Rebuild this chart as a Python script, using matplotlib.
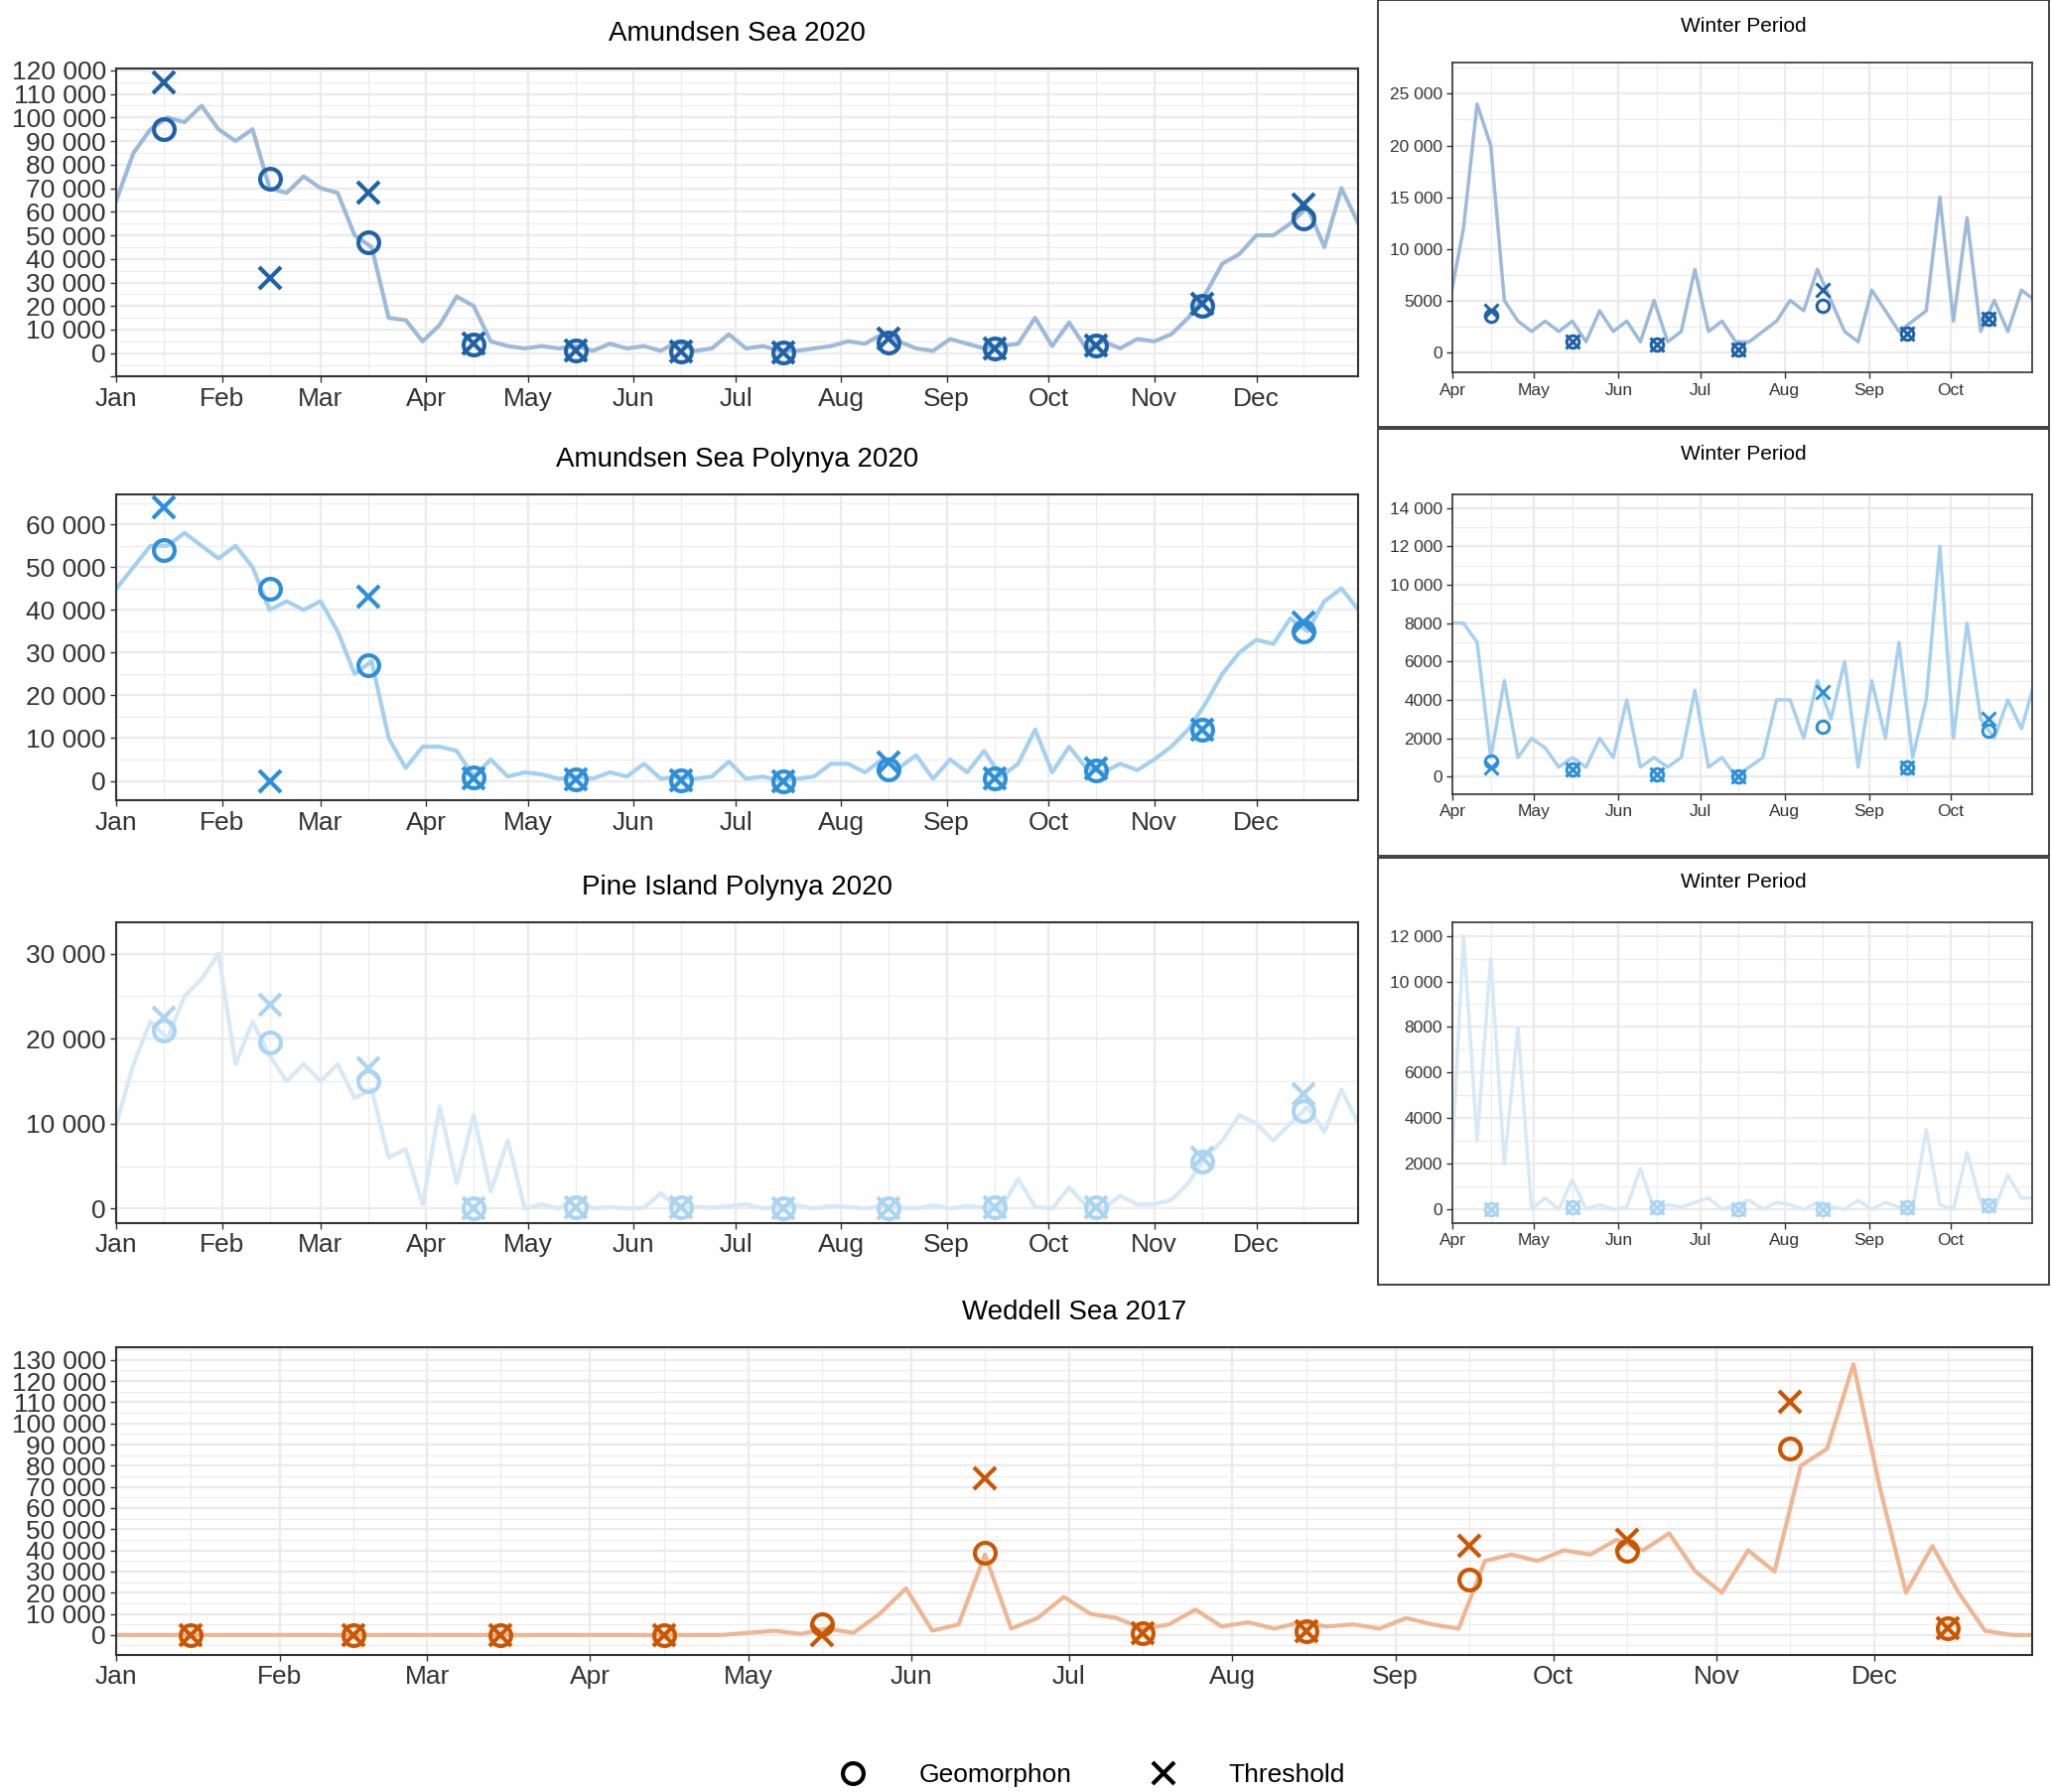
import matplotlib.pyplot as plt
import matplotlib.dates as mdates
from matplotlib.patches import Rectangle
from matplotlib.lines import Line2D
import numpy as np
import pandas as pd

plt.rcParams['font.family'] = ['Liberation Sans', 'DejaVu Sans']

amundsen = [65000, 85000, 95000, 100000, 98000, 105000, 95000,
            90000, 95000, 70000, 68000, 75000, 70000,
            68000, 50000, 45000, 15000, 14000, 5000,
            12000, 24000, 20000, 5000, 3000, 2000,
            3000, 2000, 3000, 1000, 4000, 2000,
            3000, 1000, 5000, 1000, 2000, 8000,
            2000, 3000, 1000, 1000, 2000, 3000,
            5000, 4000, 8000, 5000, 2000, 1000,
            6000, 4000, 2000, 3000, 4000, 15000,
            3000, 13000, 2000, 5000, 2000, 6000,
            5000, 8000, 15000, 25000, 38000, 42000,
            50000, 50000, 55000, 62000, 45000, 70000, 55000]
polynya = [45000, 50000, 55000, 55000, 58000, 55000, 52000,
           55000, 50000, 40000, 42000, 40000, 42000,
           35000, 25000, 28000, 10000, 3000, 8000,
           8000, 7000, 1000, 5000, 1000, 2000,
           1500, 500, 1000, 500, 2000, 1000,
           4000, 500, 1000, 500, 1000, 4500,
           500, 1000, 0, 500, 1000, 4000,
           4000, 2000, 5000, 3000, 6000, 500,
           5000, 2000, 7000, 1000, 4000, 12000,
           2000, 8000, 3000, 2000, 4000, 2500,
           5000, 8000, 12000, 18000, 25000, 30000,
           33000, 32000, 38000, 35000, 42000, 45000, 40000]
pine_island = [10000, 17000, 22000, 20000, 25000, 27000, 30000,
               17000, 22000, 18000, 15000, 17000, 15000,
               17000, 13000, 14000, 6000, 7000, 500,
               12000, 3000, 11000, 2000, 8000, 0,
               500, 0, 1300, 0, 200, 0,
               100, 1800, 0, 200, 100, 300,
               500, 0, 200, 400, 0, 300,
               200, 0, 300, 100, 0, 400,
               0, 300, 100, 0, 3500, 200,
               0, 2500, 300, 0, 1500, 500,
               500, 1000, 3000, 6000, 8000, 11000,
               10000, 8000, 10000, 12000, 9000, 14000, 10000]
weddell = [0] * 24 + [1000, 2000, 500, 3000, 1000, 10000, 22000, 2000, 5000, 38000,
                      3000, 8000, 18000, 10000, 8000, 3000, 5000, 12000, 4000, 6000,
                      3000, 6000, 4000, 5000, 3000, 8000, 5000, 3000, 35000, 38000,
                      35000, 40000, 38000, 45000, 40000, 48000, 30000, 20000, 40000, 30000,
                      80000, 88000, 128000, 70000, 20000, 42000, 20000, 2000, 0, 0]

# mid-month detections: geomorphon (o) and threshold (x)
amundsen_geo = [95000, 74000, 47000, 3500, 1000, 700, 300, 4500, 1800, 3200, 20000, 57000]
amundsen_thr = [115000, 32000, 68000, 4000, 1000, 700, 300, 6000, 1800, 3200, 21000, 63000]
polynya_geo = [54000, 45000, 27000, 800, 400, 100, 0, 2600, 500, 2400, 12000, 35000]
polynya_thr = [64000, 0, 43000, 500, 400, 100, 0, 4400, 500, 3000, 12000, 37000]
pine_geo = [21000, 19500, 15000, 0, 100, 100, 0, 0, 100, 200, 5500, 11500]
pine_thr = [22500, 24000, 16500, 0, 100, 100, 0, 0, 100, 200, 6000, 13500]
weddell_geo = [0, 0, 0, 0, 5000, 39000, 1000, 2000, 26000, 40000, 88000, 3000]
weddell_thr = [0, 0, 0, 0, 0, 74000, 1000, 2000, 42000, 45000, 110000, 3000]

W, H = 1568, 1370


def fr(l, t, r, b):
    return [l / W, 1 - b / H, (r - l) / W, (b - t) / H]


def fmt(v, p):
    v = int(round(v))
    if v < 0:
        return ''
    if v >= 10000:
        return f"{v:,}".replace(",", " ")
    return str(v)


def style(ax, fs, step, lw=1.5):
    ax.set_facecolor('white')
    for s in ax.spines.values():
        s.set_color('#333333')
        s.set_linewidth(lw)
    ax.xaxis.set_major_locator(mdates.MonthLocator())
    ax.xaxis.set_minor_locator(mdates.MonthLocator(bymonthday=15))
    ax.xaxis.set_major_formatter(mdates.DateFormatter('%b'))
    ax.yaxis.set_major_locator(plt.MultipleLocator(step))
    ax.yaxis.set_minor_locator(plt.MultipleLocator(step / 2))
    ax.yaxis.set_major_formatter(plt.FuncFormatter(fmt))
    ax.grid(which='major', color='#ebebeb', lw=1.6)
    ax.grid(which='minor', color='#ebebeb', lw=0.8)
    ax.set_axisbelow(True)
    ax.tick_params(which='major', labelsize=fs, colors='#333333', length=4, width=1)
    ax.tick_params(which='minor', length=0)


def draw(ax, year, vals, geo, thr, lc, mc, ms, mew, lw=3):
    dates = pd.date_range(f'{year}-01-01', periods=len(vals), freq='5D')
    ax.plot(dates, vals, color=lc, lw=lw, zorder=2)
    mid = pd.date_range(f'{year}-01-01', periods=12, freq='MS') + pd.Timedelta(days=14)
    ax.plot(mid, geo, 'o', mfc='none', mec=mc, ms=ms, mew=mew, zorder=3)
    ax.plot(mid, thr, 'x', color=mc, ms=ms * 1.1, mew=mew, zorder=3)


fig = plt.figure(figsize=(20.67, 18.05), dpi=100)

panels = [
    ('Amundsen Sea 2020', amundsen, amundsen_geo, amundsen_thr, '#9dbadb', '#1f62a8',
     (52, 288), (-10000, 121000), 10000, (48, 285), (-2000, 28000), 5000),
    ('Amundsen Sea Polynya 2020', polynya, polynya_geo, polynya_thr, '#a6d0ef', '#2d8fd8',
     (378, 612), (-4600, 67000), 10000, (378, 607), (-900, 14700), 2000),
    ('Pine Island Polynya 2020', pine_island, pine_geo, pine_thr, '#d7e9f7', '#abd4f1',
     (705, 935), (-1700, 33700), 10000, (705, 935), (-600, 12600), 2000),
]

for i, (title, vals, geo, thr, lc, mc, (t, b), ylim, step, (it, ib), iylim, istep) in enumerate(panels):
    ax = fig.add_axes(fr(89, t, 1038, b))
    style(ax, 19, step)
    draw(ax, 2020, vals, geo, thr, lc, mc, 15, 3)
    ax.set_xlim(pd.Timestamp('2020-01-01'), pd.Timestamp('2020-12-31'))
    ax.set_ylim(*ylim)
    ax.set_title(title, fontsize=20, pad=20)

    # inset box and winter inset
    fig.patches.append(Rectangle((1053 / W, 1 - (326 * (i + 1) + 2 * i) / H), 513 / W, 326 / H,
                                 transform=fig.transFigure, fill=False, ec='#333333', lw=1.3))
    fig.text(1332 / W, 1 - (20 + 327 * i) / H, 'Winter Period', ha='center', va='center', fontsize=15)
    ia = fig.add_axes(fr(1110, it, 1553, ib))
    style(ia, 12.5, istep, lw=1.2)
    draw(ia, 2020, vals, geo, thr, lc, mc, 9, 2.2, lw=2.5)
    ia.set_xlim(pd.Timestamp('2020-04-01'), pd.Timestamp('2020-10-31'))
    ia.set_ylim(*iylim)
    ia.xaxis.set_major_locator(mdates.MonthLocator(bymonth=range(4, 11)))

ax = fig.add_axes(fr(89, 1030, 1553, 1265))
style(ax, 19, 10000)
draw(ax, 2017, weddell, weddell_geo, weddell_thr, '#eeb692', '#cc5500', 15, 3)
ax.set_xlim(pd.Timestamp('2017-01-01'), pd.Timestamp('2017-12-31'))
ax.set_ylim(-9300, 136000)
ax.set_title('Weddell Sea 2017', fontsize=20, pad=20)

handles = [Line2D([], [], ls='none', marker='o', mfc='none', mec='black', ms=15, mew=3),
           Line2D([], [], ls='none', marker='x', color='black', ms=16, mew=3)]
fig.legend(handles, ['Geomorphon', 'Threshold'], loc='center', bbox_to_anchor=(830 / W, 1 - 1357 / H),
           ncol=2, frameon=False, fontsize=19, handletextpad=1.5, columnspacing=2.5)

fig.savefig('out.png', dpi=100)
